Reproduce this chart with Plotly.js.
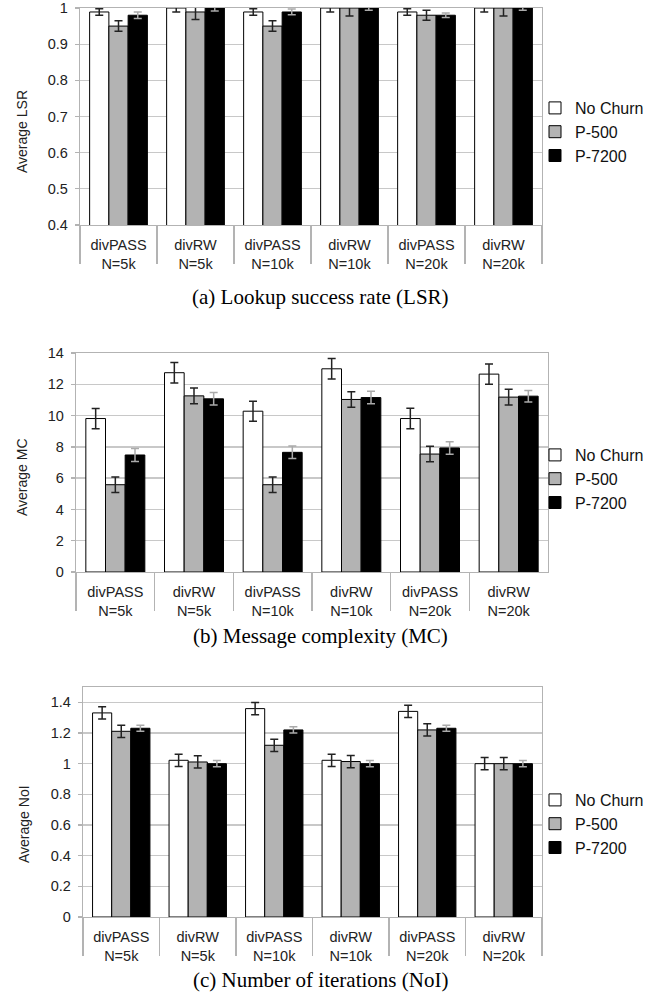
<!DOCTYPE html>
<html>
<head>
<meta charset="utf-8">
<script src="https://cdn.plot.ly/plotly-3.0.1.min.js"></script>
<style>html,body{margin:0;padding:0;background:#fff;}#chart{width:670px;height:1004px;}</style>
</head>
<body>
<div id="chart"></div>
<script>
// ---- data ----
var categories = ['divPASS<br>N=5k','divRW<br>N=5k','divPASS<br>N=10k','divRW<br>N=10k','divPASS<br>N=20k','divRW<br>N=20k'];
var seriesNames = ['No Churn','P-500','P-7200'];

// (a) Lookup success rate
var lsrNoChurn = [0.989, 1.0, 0.989, 1.0, 0.989, 1.0];
var lsrNoChurnErr = [0.009, 0.011, 0.009, 0.011, 0.009, 0.011];
var lsrP500 = [0.95, 0.989, 0.95, 1.0, 0.98, 1.0];
var lsrP500Err = [0.0145, 0.021, 0.0145, 0.022, 0.014, 0.022];
var lsrP7200 = [0.98, 1.0, 0.989, 1.0, 0.98, 1.0];
var lsrP7200Err = [0.009, 0.008, 0.008, 0.006, 0.006, 0.006];

// (b) Message complexity
var mcNoChurn = [9.81, 12.74, 10.28, 12.99, 9.81, 12.65];
var mcNoChurnErr = [0.65, 0.66, 0.64, 0.66, 0.66, 0.65];
var mcP500 = [5.58, 11.26, 5.58, 11.03, 7.54, 11.18];
var mcP500Err = [0.5, 0.5, 0.5, 0.5, 0.5, 0.5];
var mcP7200 = [7.48, 11.07, 7.65, 11.15, 7.93, 11.24];
var mcP7200Err = [0.42, 0.4, 0.4, 0.4, 0.4, 0.37];

// (c) Number of iterations
var noiNoChurn = [1.331, 1.022, 1.359, 1.022, 1.341, 1.0];
var noiNoChurnErr = [0.04, 0.04, 0.04, 0.04, 0.04, 0.04];
var noiP500 = [1.211, 1.011, 1.12, 1.014, 1.22, 1.0];
var noiP500Err = [0.04, 0.04, 0.04, 0.04, 0.04, 0.04];
var noiP7200 = [1.231, 1.0, 1.22, 1.0, 1.231, 1.0];
var noiP7200Err = [0.02, 0.02, 0.02, 0.02, 0.02, 0.02];

var yTitles = ['Average LSR', 'Average MC', 'Average NoI'];
var captions = ['(a) Lookup success rate (LSR)', '(b) Message complexity (MC)', '(c) Number of iterations (NoI)'];

// ---- styles ----
var fillColors = ['#ffffff', '#b3b3b3', '#000000'];
var errColors = ['#222222', '#222222', '#aaaaaa'];
var sans = 'Liberation Sans, Arial, sans-serif';
var W = 670, H = 1004;

var panels = [
  {vals: [lsrNoChurn, lsrP500, lsrP7200], errs: [lsrNoChurnErr, lsrP500Err, lsrP7200Err],
   px: [80, 542], py: [8, 225], range: [0.4, 1.0], dtick: 0.1, legendY: 132, capY: 297, titleX: 22, titleY: 132},
  {vals: [mcNoChurn, mcP500, mcP7200], errs: [mcNoChurnErr, mcP500Err, mcP7200Err],
   px: [76, 548], py: [353, 572], range: [0, 14], dtick: 2, legendY: 479, capY: 636, titleX: 22, titleY: 477},
  {vals: [noiNoChurn, noiP500, noiP7200], errs: [noiNoChurnErr, noiP500Err, noiP7200Err],
   px: [83, 542], py: [687, 917], range: [0, 1.5], dtick: 0.2, legendY: 824, capY: 980, titleX: 24, titleY: 824}
];

var traces = [];
var layout = {
  width: W, height: H,
  margin: {l: 0, r: 0, t: 0, b: 0},
  paper_bgcolor: '#ffffff', plot_bgcolor: '#ffffff',
  barmode: 'group', bargap: 0.25, bargroupgap: 0,
  font: {family: sans, color: '#222222', size: 14},
  annotations: []
};

panels.forEach(function (p, k) {
  var sfx = k === 0 ? '' : String(k + 1);
  var xa = 'x' + sfx, ya = 'y' + sfx;
  var lg = 'legend' + sfx;
  for (var s = 0; s < 3; s++) {
    traces.push({
      type: 'bar', name: seriesNames[s], x: categories, y: p.vals[s],
      xaxis: xa, yaxis: ya, legend: lg,
      marker: {color: fillColors[s], line: {color: '#000000', width: 1}},
      error_y: {type: 'data', array: p.errs[s], visible: true, color: errColors[s], thickness: 1.5, width: 4},
      hoverinfo: 'skip'
    });
  }
  layout['xaxis' + sfx] = {
    domain: [p.px[0] / W, p.px[1] / W], anchor: ya,
    type: 'category', showgrid: false, zeroline: false,
    showline: true, mirror: true, linecolor: '#b3b3b3', linewidth: 1.3,
    ticks: 'outside', tickson: 'boundaries', ticklen: 38, tickwidth: 1.3, tickcolor: '#b3b3b3',
    ticklabelstandoff: 6,
    tickfont: {family: sans, size: 14.5, color: '#222222'},
    fixedrange: true
  };
  layout['yaxis' + sfx] = {
    domain: [1 - p.py[1] / H, 1 - p.py[0] / H], anchor: xa,
    range: p.range, dtick: p.dtick, tick0: 0,
    showgrid: true, gridcolor: '#c8c8c8', gridwidth: 1.3, zeroline: false,
    showline: true, mirror: true, linecolor: '#b3b3b3', linewidth: 1.3,
    ticks: 'outside', ticklen: 4, tickwidth: 1.3, tickcolor: '#b3b3b3',
    ticklabelstandoff: 4, ticklabeloverflow: 'allow',
    tickfont: {family: sans, size: 14.5, color: '#222222'},
    automargin: false, fixedrange: true
  };
  layout[lg] = {
    x: 535 / W, xanchor: 'left', y: 1 - p.legendY / H, yanchor: 'middle',
    bgcolor: 'rgba(0,0,0,0)', borderwidth: 0, tracegroupgap: 0,
    font: {family: sans, size: 16, color: '#111111'}
  };
  // y-axis title (centred on plot + category label block, as in the reference)
  layout.annotations.push({
    xref: 'paper', yref: 'paper', x: p.titleX / W, y: 1 - p.titleY / H,
    xanchor: 'center', yanchor: 'middle', showarrow: false, textangle: -90,
    text: yTitles[k],
    font: {family: sans, size: 14, color: '#222222'}
  });
  layout.annotations.push({
    xref: 'paper', yref: 'paper', x: 320 / W, y: 1 - p.capY / H,
    xanchor: 'center', yanchor: 'middle', showarrow: false,
    text: captions[k],
    font: {family: 'Liberation Serif, Times New Roman, serif', size: 21, color: '#000000'}
  });
});

Plotly.newPlot('chart', traces, layout, {displayModeBar: false, staticPlot: true});
</script>
</body>
</html>
